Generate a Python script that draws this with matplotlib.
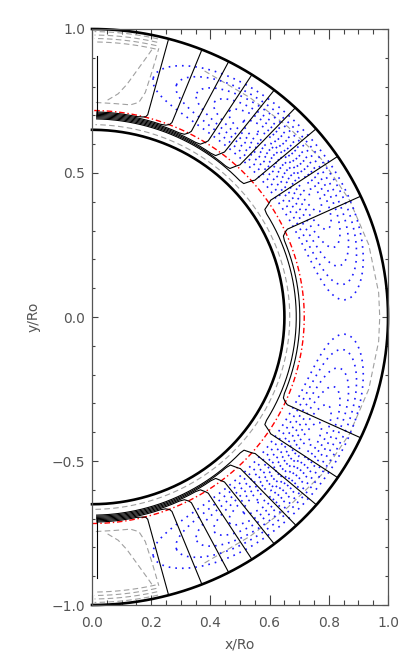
import numpy as np
import matplotlib.pyplot as plt
from matplotlib.ticker import MultipleLocator

# shell geometry (units of Ro)
r_surface = 1.0
r_base = 0.65
r_tacho = 0.717

# poloidal field lines: surface footpoint latitude (deg) and radius of the deep horizontal run
fl_lat_north = [75.0, 68.2, 62.5, 57.3, 52.0, 46.6, 40.8]
fl_lat_south = [-75.0, -68.2, -62.5, -57.3, -52.0, -46.4, -40.7]
fl_run = [0.712, 0.708, 0.704, 0.700, 0.696, 0.692, 0.688]
fl_lat_cross = [33.9, 24.8]      # these pass under the equator to the other hemisphere
fl_run_cross = [0.690, 0.702]
pole_line_x = 0.016
pole_line_y = [0.70, 0.905]

# meridional circulation contours (northern cell, southern one mirrored)
cell_lat_lo = [4.0, 7.6, 12.0, 16.5, 21.0, 25.5, 30.0, 34.5]
cell_lat_hi = [76.0, 70.5, 65.5, 61.0, 57.0, 53.0, 49.0, 45.0]
cell_r_lo = [0.745, 0.762, 0.778, 0.793, 0.807, 0.820, 0.833, 0.845]
cell_r_hi = [0.965, 0.947, 0.929, 0.912, 0.897, 0.883, 0.870, 0.858]

# grey dashed contours, read as (latitude, radius) in the northern hemisphere
hook1_lat = [89.0, 84.0, 80.0, 78.0, 77.0, 76.6, 76.4]
hook1_r = [0.745, 0.745, 0.748, 0.762, 0.80, 0.88, 0.96]
hook2_lat = [86.0, 83.5, 81.7, 80.0, 78.2, 77.6]
hook2_r = [0.755, 0.78, 0.816, 0.867, 0.93, 0.955]
cap_r = [0.955, 0.967, 0.979, 0.991]
cap_lat = [77.0, 89.5]
inner_grey_r = 0.668
surf_lat = [66.0, 55.0, 45.0, 35.0, 25.0, 15.0, 5.0, 0.0]
surf_r = [0.935, 0.93, 0.935, 0.95, 0.96, 0.968, 0.972, 0.972]


def xy(r, lat):
    lat = np.radians(lat)
    return np.asarray(r) * np.cos(lat), np.asarray(r) * np.sin(lat)


def arc(r, lat0, lat1, n=200):
    lats = np.linspace(lat0, lat1, n)
    return list(lats), [r] * n


def field_line(lat0, r_run, lat_end, lat_back=None):
    s = np.sign(lat_end - lat0)
    lats = [lat0, lat0, lat0 + s * 0.4, lat0 + s * 1.3]
    rs = [r_surface, 0.727, 0.718, r_run + 0.003]
    a_l, a_r = arc(r_run, lat0 + s * 2.6, lat_end)
    lats += a_l
    rs += a_r
    if lat_back is not None:
        lats += [lat_back - s * 1.3, lat_back - s * 0.4, lat_back, lat_back]
        rs += [r_run + 0.003, 0.718, 0.727, r_surface]
    return xy(rs, lats)


def cell(lat_lo, lat_hi, r_lo, r_hi, p=3.2):
    t = np.linspace(0, 2 * np.pi, 500)
    u = np.sign(np.cos(t)) * np.abs(np.cos(t)) ** (2 / p)
    v = np.sin(t)
    lat = 0.5 * (lat_lo + lat_hi) + 0.5 * (lat_hi - lat_lo) * u
    r = 0.5 * (r_lo + r_hi) + 0.5 * (r_hi - r_lo) * v
    return lat, r


fig = plt.figure(figsize=(4.15, 6.65), dpi=100)
ax = fig.add_axes([0.2217, 0.0902, 0.7133, 0.8662])

grey = dict(color='#a0a0a0', lw=0.8, dashes=(5, 3))
blue = dict(color='#1a1aff', lw=1.2, linestyle=(0, (1, 3)))

# grey dashed contours
for sgn in (1, -1):
    for la, rr in ((hook1_lat, hook1_r), (hook2_lat, hook2_r)):
        ax.plot(*xy(rr, sgn * np.array(la)), **grey)
    for rc in cap_r:
        l, r = arc(rc, sgn * cap_lat[0], sgn * cap_lat[1], 60)
        ax.plot(*xy(r, l), **grey)
    ax.plot(*xy(surf_r, sgn * np.array(surf_lat)), **grey)
l, r = arc(inner_grey_r, -89.0, 89.0, 400)
ax.plot(*xy(r, l), **grey)

# circulation cells
for sgn in (1, -1):
    for i in range(len(cell_lat_lo)):
        l, r = cell(cell_lat_lo[i], cell_lat_hi[i], cell_r_lo[i], cell_r_hi[i])
        ax.plot(*xy(r, sgn * l), **blue)

# tachocline
l, r = arc(r_tacho, -90, 90, 600)
ax.plot(*xy(r, l), color='red', lw=1.0, linestyle=(0, (4, 2, 1, 2)))

# field lines
for lat0, rr in zip(fl_lat_north, fl_run):
    ax.plot(*field_line(lat0, rr, 88.7), color='black', lw=0.8)
for lat0, rr in zip(fl_lat_south, fl_run):
    ax.plot(*field_line(lat0, rr, -88.7), color='black', lw=0.8)
for lat0, rr in zip(fl_lat_cross, fl_run_cross):
    ax.plot(*field_line(lat0, rr, -lat0 + 2.6, lat_back=-lat0), color='black', lw=0.8)
for sgn in (1, -1):
    ax.plot([pole_line_x, pole_line_x], [sgn * pole_line_y[0], sgn * pole_line_y[1]],
            color='black', lw=0.8)

# shell boundaries
for rb in (r_surface, r_base):
    l, r = arc(rb, -90, 90, 600)
    ax.plot(*xy(r, l), color='black', lw=1.9, clip_on=False)

ax.set_xlim(0, 1)
ax.set_ylim(-1, 1)
ax.xaxis.set_major_locator(MultipleLocator(0.2))
ax.xaxis.set_minor_locator(MultipleLocator(0.05))
ax.yaxis.set_major_locator(MultipleLocator(0.5))
ax.yaxis.set_minor_locator(MultipleLocator(0.1))
ax.tick_params(axis='x', which='major', direction='in', length=7, width=0.8,
               top=True, color='#444444', labelcolor='#555555', labelsize=10, pad=8)
ax.tick_params(axis='x', which='minor', direction='in', length=3.5, width=0.8,
               top=True, color='#444444')
ax.tick_params(axis='y', which='major', direction='in', length=4.3, width=0.8,
               right=True, color='#444444', labelcolor='#555555', labelsize=10, pad=5)
ax.tick_params(axis='y', which='minor', direction='in', length=2.2, width=0.8,
               right=True, color='#444444')
for sp in ax.spines.values():
    sp.set_color('#555555')
    sp.set_linewidth(0.9)
ax.set_xlabel('x/Ro', color='#555555', fontsize=10, labelpad=5)
ax.set_ylabel('y/Ro', color='#555555', fontsize=10, labelpad=8)

fig.savefig('out.png', dpi=100)
